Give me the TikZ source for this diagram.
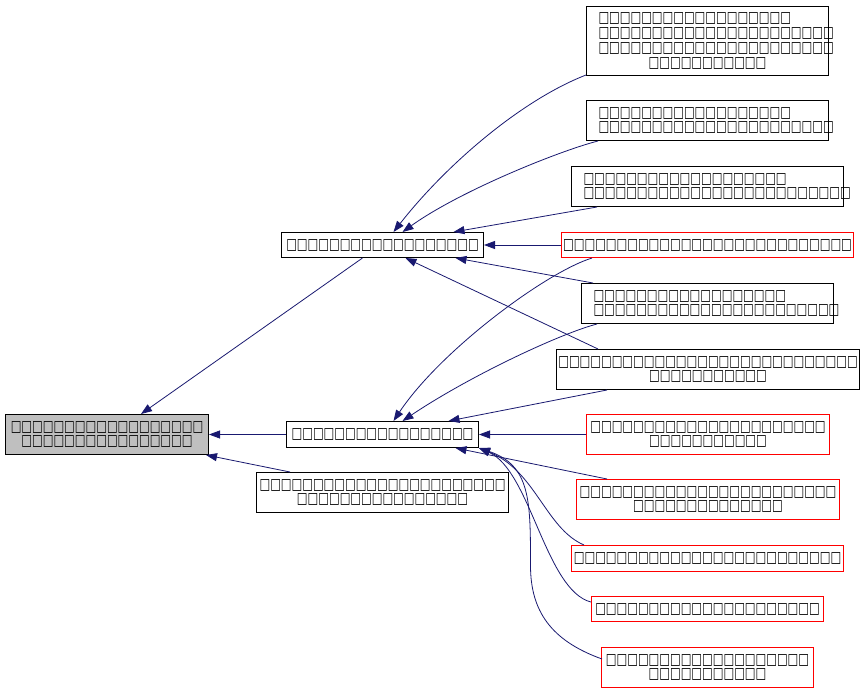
\documentclass[tikz,border=0pt]{standalone}
\usepackage{fontspec}
\newfontfamily\tofu[FakeStretch=0.73]{DejaVu Sans}
\usetikzlibrary{arrows.meta,calc}
\definecolor{edgecol}{HTML}{191970}
\definecolor{boxred}{HTML}{FF0000}
\definecolor{nodegray}{HTML}{BFBFBF}
\newcommand\lline[1]{\makebox[\linewidth][l]{#1}}
\begin{document}
\begin{tikzpicture}[x=1pt,y=-1pt,
  cls/.style={draw=black, line width=1pt, inner sep=0pt, align=center,
    font=\tofu\fontsize{15.5}{14.7}\selectfont},
  redcls/.style={cls, draw=boxred},
  inh/.style={draw=edgecol, line width=0.8pt, -{Triangle[length=11pt,width=8pt]}}]
\useasboundingbox (0,0) rectangle (864,693);
\fill[white] (0,0) rectangle (864,693);
\begin{scope}[xshift=0.5pt, yshift=-0.5pt]
% left and middle nodes
\node[cls, fill=nodegray, minimum width=203pt, minimum height=40pt] (A) at (106.5,434)
  {□□□□□□□□□□□□□□□□□□\\□□□□□□□□□□□□□□□□};
\node[cls, minimum width=202pt, minimum height=25pt] (B) at (382,244.5)
  {□□□□□□□□□□□□□□□□□□};
\node[cls, minimum width=192pt, minimum height=26pt] (C) at (382,434)
  {□□□□□□□□□□□□□□□□□};
\node[cls, minimum width=252pt, minimum height=40pt] (D) at (382,492)
  {□□□□□□□□□□□□□□□□□□□□□□□\\□□□□□□□□□□□□□□□□};

% right column
\node[cls, minimum width=242pt, minimum height=69pt, text width=218pt] (R1) at (707,40.5)
  {\lline{□□□□□□□□□□□□□□□□□□}\\\lline{□□□□□□□□□□□□□□□□□□□□□□}\\\lline{□□□□□□□□□□□□□□□□□□□□□□}\\□□□□□□□□□□□};
\node[cls, minimum width=242pt, minimum height=40pt, text width=218pt] (R2) at (707,120)
  {\lline{□□□□□□□□□□□□□□□□□□}\\□□□□□□□□□□□□□□□□□□□□□□};
\node[cls, minimum width=272pt, minimum height=40pt, text width=248pt] (R3) at (707,186)
  {\lline{□□□□□□□□□□□□□□□□□□□}\\□□□□□□□□□□□□□□□□□□□□□□□□□};
\node[redcls, minimum width=292pt, minimum height=25pt] (R4) at (707,244.5)
  {□□□□□□□□□□□□□□□□□□□□□□□□□□□};
\node[cls, minimum width=252pt, minimum height=40pt, text width=228pt] (R5) at (707,303)
  {\lline{□□□□□□□□□□□□□□□□□□}\\□□□□□□□□□□□□□□□□□□□□□□□};
\node[cls, minimum width=303pt, minimum height=40pt] (R6) at (707.5,369)
  {□□□□□□□□□□□□□□□□□□□□□□□□□□□□\\□□□□□□□□□□□};
\node[redcls, minimum width=243pt, minimum height=40pt] (R7) at (707.5,434)
  {□□□□□□□□□□□□□□□□□□□□□□\\□□□□□□□□□□□};
\node[redcls, minimum width=263pt, minimum height=40pt] (R8) at (707.5,499)
  {□□□□□□□□□□□□□□□□□□□□□□□□\\□□□□□□□□□□□□□□};
\node[redcls, minimum width=272pt, minimum height=26pt] (R9) at (707,558)
  {□□□□□□□□□□□□□□□□□□□□□□□□□};
\node[redcls, minimum width=232pt, minimum height=25pt] (R10) at (707,608.5)
  {□□□□□□□□□□□□□□□□□□□□□};
\node[redcls, minimum width=212pt, minimum height=40pt] (R11) at (707,667)
  {□□□□□□□□□□□□□□□□□□□\\□□□□□□□□□□□};

% edges to A
\draw[inh] ($(B.south)+(-20,0)$) -- ($(A.north)+(34,0)$);
\draw[inh] (C.west) -- (A.east);
\draw[inh] ($(D.north west)+(34,0)$) -- ($(A.south east)+(-3,0)$);

% edges to B
\draw[inh] ($(R1.south west)+(0,-1)$) .. controls (520,100) and (445,165) .. ($(B.north)+(11,0)$);
\draw[inh] ($(R2.south west)+(12,0)$) .. controls (560,150) and (460,190) .. ($(B.north)+(20,0)$);
\draw[inh] ($(R3.south west)+(26,0)$) -- ($(B.north)+(71,0)$);
\draw[inh] (R4.west) -- (B.east);
\draw[inh] ($(R5.north west)+(12,0)$) -- ($(B.south)+(73,0)$);
\draw[inh] ($(R6.north west)+(42,0)$) -- ($(B.south)+(23,0)$);

% edges to C
\draw[inh] ($(R4.south west)+(31,0)$) .. controls (545,272) and (440,350) .. ($(C.north)+(11,0)$);
\draw[inh] ($(R5.south west)+(16,0)$) .. controls (560,333) and (470,375) .. ($(C.north)+(20,0)$);
\draw[inh] ($(R6.south west)+(51,0)$) -- ($(C.north)+(66,0)$);
\draw[inh] (R7.west) -- (C.east);
\draw[inh] ($(R8.north west)+(31,0)$) -- ($(C.south)+(73,0)$);
\draw[inh] ($(R9.north west)+(13,0)$) .. controls (545,528) and (535,470) .. ($(C.south east)+(0,0)$);
\draw[inh] ($(R10.north west)+(0,6)$) .. controls (545,590) and (530,470) .. ($(C.south east)+(0,0)$);
\draw[inh] ($(R11.north west)+(1,12)$) .. controls (550,640) and (530,610) .. (530,565)
  .. controls (530,500) and (530,465) .. ($(C.south east)+(0,0)$);
\end{scope}
\end{tikzpicture}
\end{document}
